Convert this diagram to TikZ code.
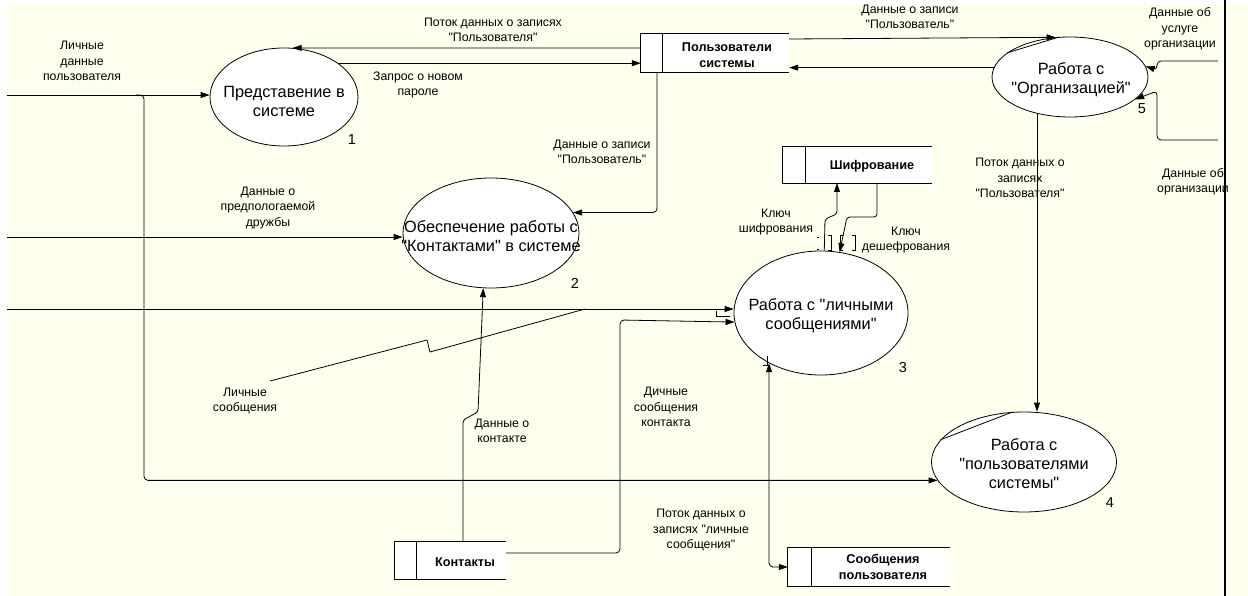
\documentclass[tikz,border=0pt]{standalone}
\usepackage{fontspec}
\setmainfont{Liberation Sans}[Ligatures=TeXOff]
\usetikzlibrary{shapes.geometric,arrows.meta,calc}
\definecolor{bg}{RGB}{255,255,238}
\begin{document}
\begin{tikzpicture}[x=1pt,y=-1pt,
  proc/.style={ellipse,draw=black,fill=white,line width=0.8pt,inner sep=0pt},
  ptext/.style={font=\fontsize{16.3}{19}\selectfont,align=center,inner sep=0pt},
  lbl/.style={font=\fontsize{12.3}{15.5}\selectfont,align=center,inner sep=0pt},
  num/.style={font=\fontsize{14.5}{16}\selectfont,inner sep=0pt},
  store/.style={rectangle,fill=white,inner sep=0pt},
  stext/.style={font=\fontsize{12.7}{16}\selectfont\bfseries,align=center,inner sep=0pt},
  wire/.style={draw=black,line width=0.8pt},
  flow/.style={wire,-{Triangle[length=9pt,width=6pt]}},
  flowtwo/.style={wire,{Triangle[length=9pt,width=6pt]}-{Triangle[length=9pt,width=6pt]}},
  tick/.style={draw=black,line width=0.6pt},
]
\useasboundingbox (0,0) rectangle (1248,596);
\fill[white] (0,0) rectangle (1248,596);
\fill[bg] (7,4) rectangle (1248,596);

% boundary
\draw[wire,line width=1.3pt] (1225,0) -- (1225,596);

% processes
\node[proc,minimum width=148pt,minimum height=98pt] (e1) at (284,97) {};
\node[proc,minimum width=176pt,minimum height=110pt] (e2) at (491,233) {};
\node[proc,minimum width=174pt,minimum height=124pt] (e3) at (821,313) {};
\node[proc,minimum width=185pt,minimum height=100pt] (e4) at (1024,462) {};
\node[proc,minimum width=156pt,minimum height=80pt] (e5) at (1070,77) {};

\draw[wire] (e5.159) -- (e5.105);
\draw[wire] (e4.165) -- (e4.103);

\node[ptext] (t1) at (284,101) {Представение в\\системе};
\node[ptext] (t2) at (491,236) {Обеспечение работы с\\"Контактами" в системе};
\node[ptext] (t3) at (821,316) {Работа с "личными\\сообщениями"};
\node[ptext] (t4) at (1024,464) {Работа с\\"пользователями\\системы"};
\node[ptext] (t5) at (1071,80) {Работа с\\"Организацией"};

\node[num] (n1) at (352,140) {1};
\node[num] (n2) at (575,283) {2};
\node[num] (n3) at (903,368) {3};
\node[num] (n4) at (1110,503) {4};
\node[num] (n5) at (1142,109) {5};

% stores
\node[store,minimum width=148pt,minimum height=38pt] (s1) at (715,53) {};
\node[store,minimum width=149pt,minimum height=36pt] (s2) at (857.5,165) {};
\node[store,minimum width=111pt,minimum height=37pt] (s3) at (450.5,560.5) {};
\node[store,minimum width=162pt,minimum height=38pt] (s4) at (869,567) {};
\foreach \s/\d in {s1/22,s2/23,s3/22,s4/24}{
  \draw[wire] (\s.north east) -- (\s.north west) -- (\s.south west) -- (\s.south east);
  \draw[wire] ($(\s.north west)+(\d,0)$) -- ($(\s.south west)+(\d,0)$);
}
\node[stext] (st1) at (727,55) {Пользователи\\системы};
\node[stext] (st2) at (872,166) {Шифрование};
\node[stext] (st3) at (465,562) {Контакты};
\node[stext] (st4) at (883,567) {Сообщения\\пользователя};

% free ends and junctions
\coordinate (L1) at (7,95);
\coordinate (J1) at (144,95);
\coordinate (L2) at (7,237);
\coordinate (L3) at (7,309);
\coordinate (R1) at (1218,61);
\coordinate (R2) at (1218,140);
\coordinate (s1a) at (641,48);
\coordinate (s1b) at (789,39);
\coordinate (s1c) at (657,72);
\coordinate (s2a) at (837,183);
\coordinate (s2b) at (877,183);
\coordinate (s3a) at (463,542);
\coordinate (s3b) at (506,553);
\coordinate (ls) at (270,381);
\coordinate (lt) at (585,309);

% connectors
\draw[flow] (L1) -- (L1 -| e1.west);
\draw[flow,rounded corners=4] ($(J1)+(-8,0)$) -- (J1) |- (e4.192);
\draw[flow] (L2) -- (L2 -| e2.west);
\draw[flow] (L3) -- (L3 -| e3.west);
\draw[flow] (s1a) -- (e1.80);
\draw[flow] (e1.32) -- (e1.32 -| s1.west);
\draw[flow] (s1b) -- (e5.110);
\draw[flow] (e5.173) -- (e5.173 -| s1.east);
\draw[flow,rounded corners=4] (s1c) |- (e2.14);
\draw[flow] (e5.228) -- (e5.228 |- e4.north);
\draw[flow,rounded corners=4] (R1) -- (1157,61) -- (1157,70) -- (e5.8);
\draw[flow,rounded corners=4] (R2) -- (1157,140) -- (1157,91) -- (e5.-19);
\draw[flow,rounded corners=3] (s3a) -- (463,420) -- (478,412) -- (e2.262);
\draw[flow,rounded corners=4] (s3b) -| (620,320) -- (e3.186);
\draw[flowtwo,rounded corners=4] (e3.224) |- (s4.west);
\draw[flow,rounded corners=3] (e3.87) -- (825,219) -- (837,214) -- (s2a);
\draw[flow,rounded corners=3] (s2b) -- (877,217) -- (847,217) -- (e3.73);
\draw[wire] (ls) -- (427,340) -- (430,352) -- (lt);

% tunnel marks
\draw[tick] (828,235) -- (831,235) -- (831,250) -- (828,250);
\draw[tick] (843,235) -- (840,235) -- (840,250) -- (843,250);
\draw[tick] (852,235) -- (855,235) -- (855,250) -- (852,250);
\draw[tick] (819,237) -- (817,237);
\draw[tick] (819,249) -- (817,249);
\draw[tick] (716,311) -- (716,316) -- (730,316);
\draw[tick] (763,365) -- (767,365) -- (767,356);

% labels
\node[lbl] (a1) at (82,61) {Личные\\данные\\пользователя};
\node[lbl] (a2) at (493,30) {Поток данных о записях\\"Пользователя"};
\node[lbl] (a3) at (418,85) {Запрос о новом\\пароле};
\node[lbl] (a4) at (910,17) {Данные о записи\\"Пользователь"};
\node[lbl] (a5) at (1180,29) {Данные об\\услуге\\организации};
\node[lbl] (a6) at (1193,182) {Данные об\\организации};
\node[lbl] (a7) at (1020,178) {Поток данных о\\записях\\"Пользователя"};
\node[lbl] (a8) at (602,152) {Данные о записи\\"Пользователь"};
\node[lbl] (a9) at (268,208) {Данные о\\предпологаемой\\дружбы};
\node[lbl] (a10) at (776,222) {Ключ\\шифрования};
\node[lbl] (a11) at (906,240) {Ключ\\дешефрования};
\node[lbl] (a12) at (245,401) {Личные\\сообщения};
\node[lbl] (a13) at (502,431) {Данные о\\контакте};
\node[lbl] (a14) at (666,407) {Дичные\\сообщения\\контакта};
\node[lbl] (a15) at (701,530) {Поток данных о\\записях "личные\\сообщения"};
\end{tikzpicture}
\end{document}
